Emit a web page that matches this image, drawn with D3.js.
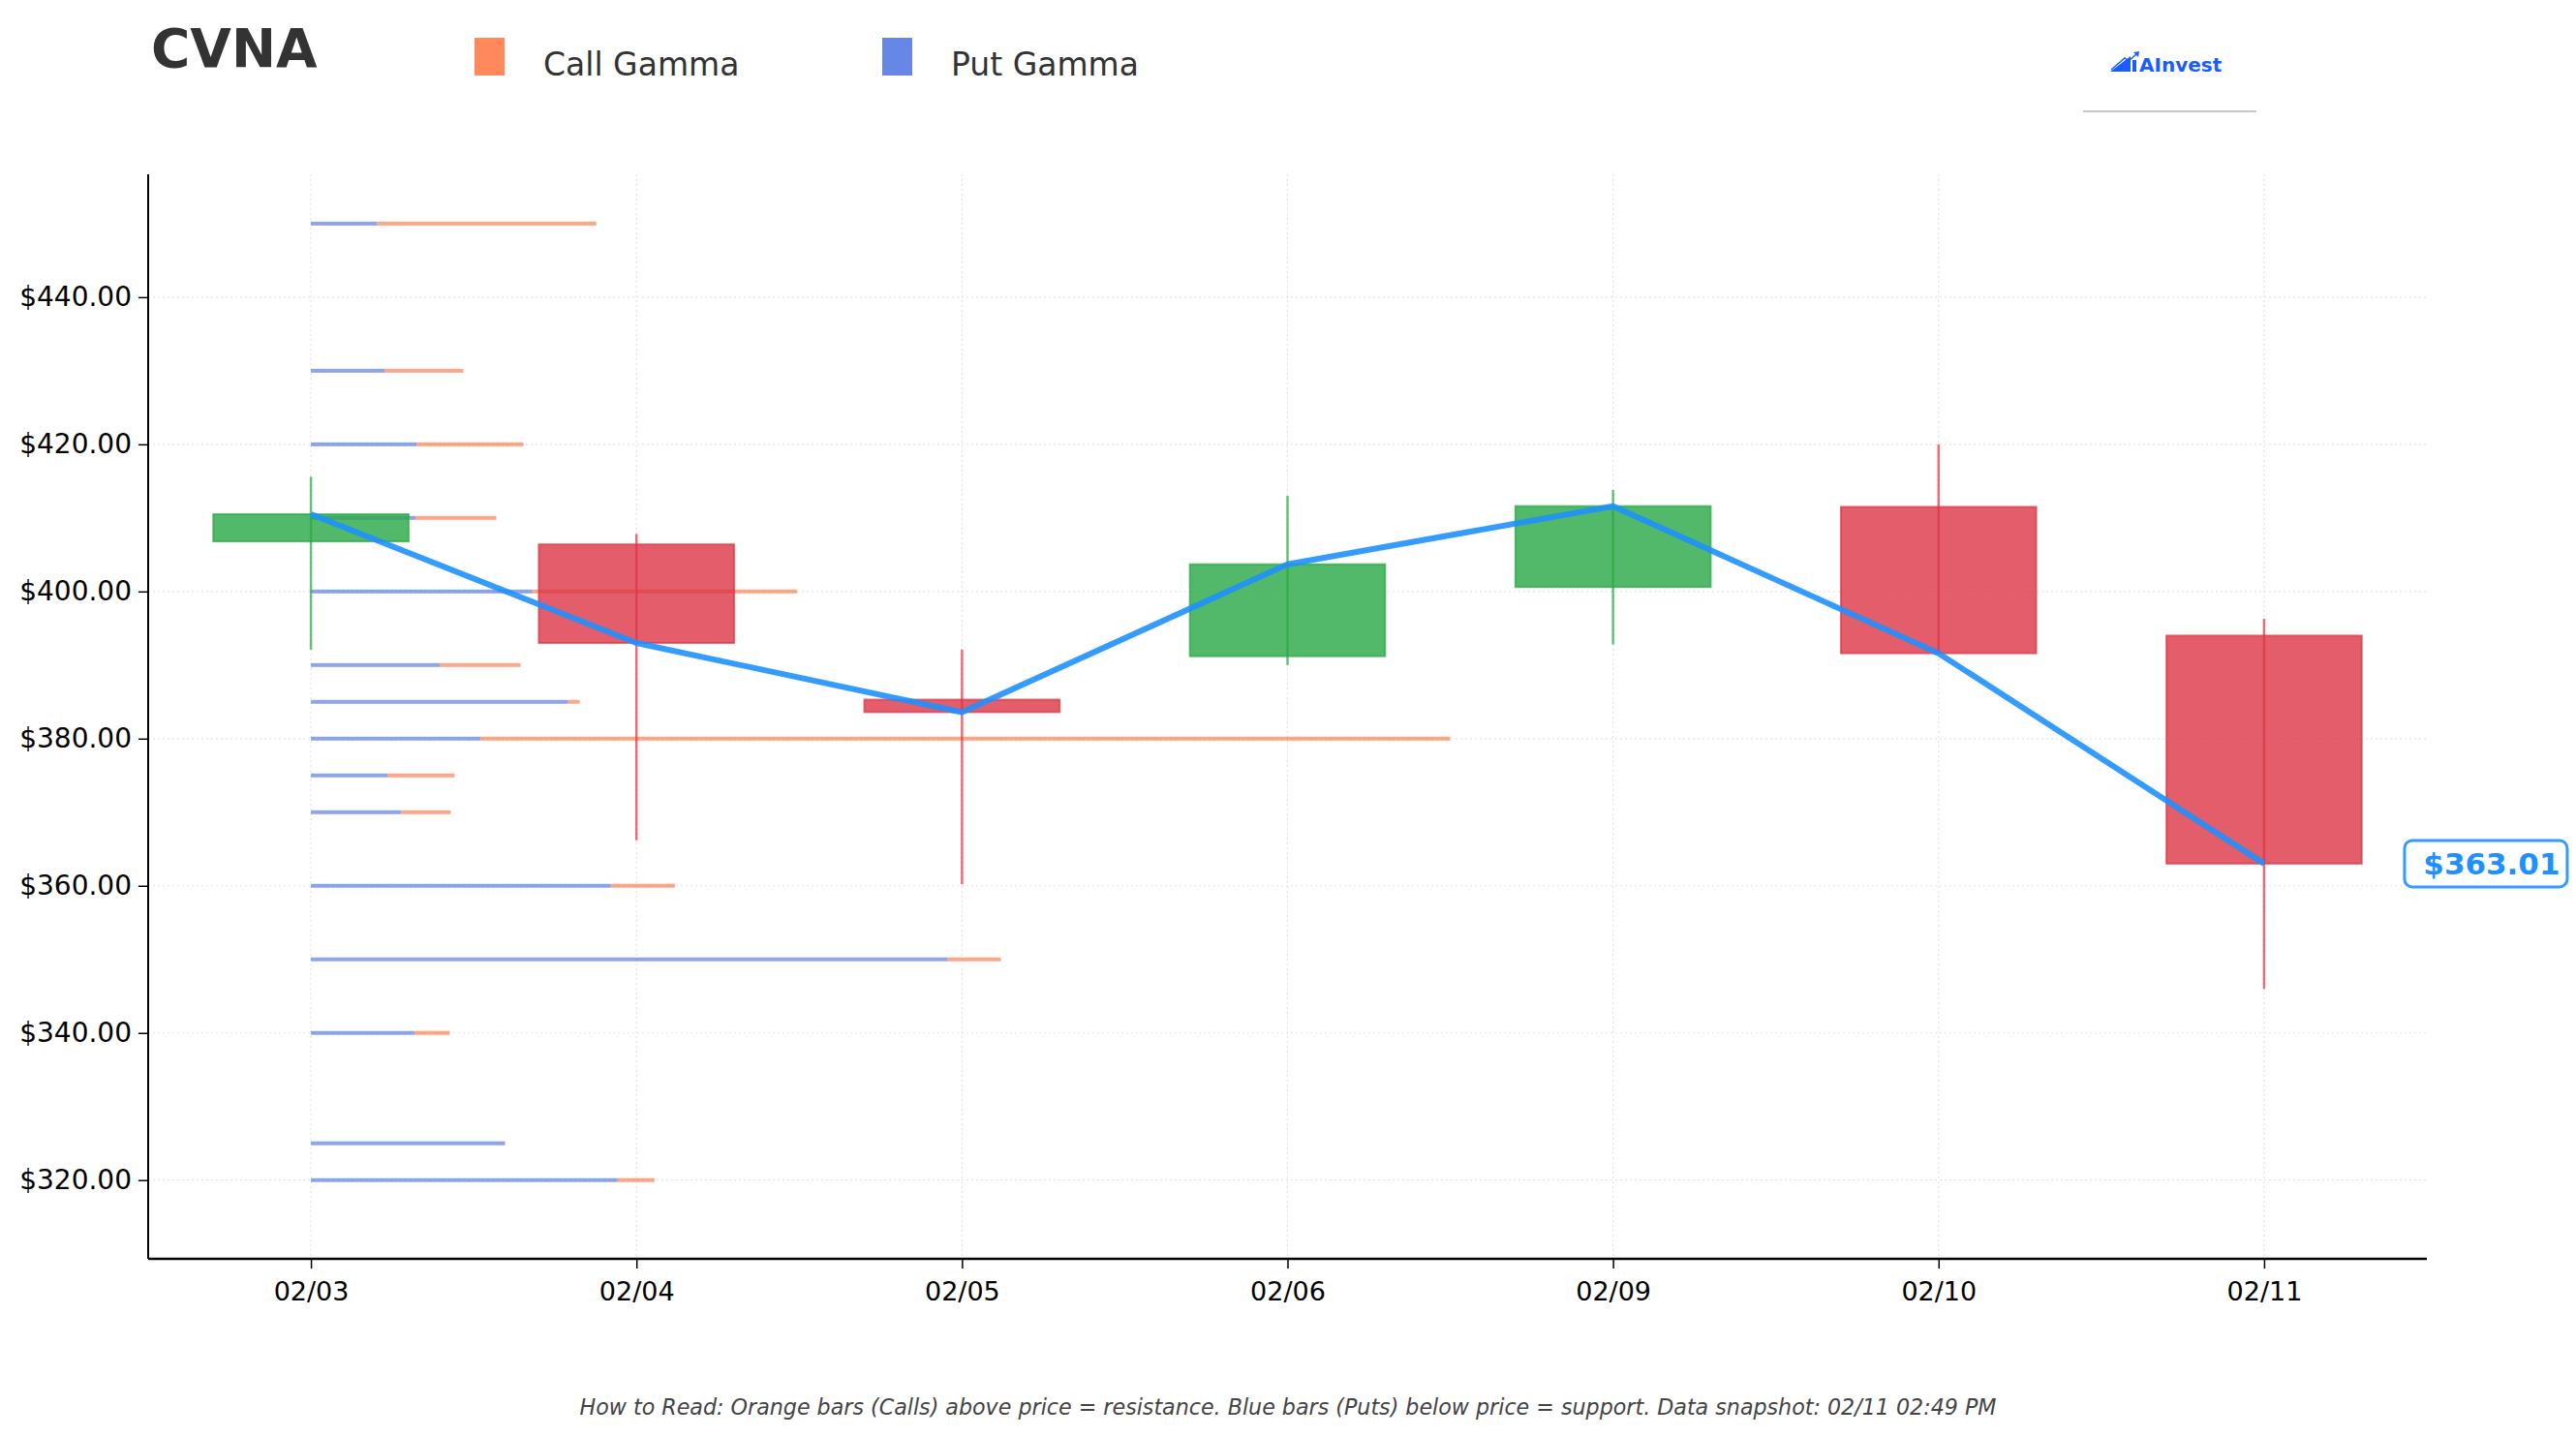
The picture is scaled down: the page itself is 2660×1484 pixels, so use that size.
<!DOCTYPE html>
<html>
<head>
<meta charset="utf-8">
<script src="https://cdn.jsdelivr.net/npm/d3@7"></script>
<style>
  html, body { margin: 0; padding: 0; background: #fff; }
  svg { display: block; font-family: "DejaVu Sans", sans-serif; }
</style>
</head>
<body>
<div id="chart"></div>
<script>
// ---- data ----
const ticker = "CVNA";
const dates = ["02/03", "02/04", "02/05", "02/06", "02/09", "02/10", "02/11"];
const opens = [406.8, 406.4, 385.3, 391.2, 400.6, 411.5, 394.0];
const highs = [415.6, 407.8, 392.1, 413.0, 413.8, 420.0, 396.3];
const lows = [392.1, 366.2, 360.2, 390.0, 392.8, 391.5, 346.0];
const closes = [410.5, 393.0, 383.6, 403.7, 411.6, 391.6, 363.01];

const strikes = [450, 430, 420, 410, 400, 390, 385, 380, 375, 370, 360, 350, 340, 325, 320];
const putGamma = [6.8, 7.6, 10.9, 10.8, 22.8, 13.3, 26.5, 17.5, 7.9, 9.3, 30.9, 65.6, 10.7, 20.0, 31.6];
const callGamma = [22.6, 8.1, 11.0, 8.3, 27.3, 8.3, 1.2, 99.9, 6.9, 5.1, 6.6, 5.5, 3.6, 0, 3.8];

const yTicks = [320, 340, 360, 380, 400, 420, 440];
const footnote = "How to Read: Orange bars (Calls) above price = resistance. Blue bars (Puts) below price = support. Data snapshot: 02/11 02:49 PM";

// ---- layout ----
const width = 2660, height = 1484;
const mLeft = 153, mRight = 2506, mTop = 180, mBottom = 1300;

const callColor = "#FF6B35";
const putColor = "#4169E1";
const upColor = "#28a745";
const downColor = "#dc3545";
const priceColor = "#1E90FF";

const svg = d3.select("#chart").append("svg")
  .attr("width", width)
  .attr("height", height);

svg.append("rect").attr("width", width).attr("height", height).attr("fill", "#fff");

// scales
const x = d3.scaleLinear().domain([-0.5, dates.length - 0.5]).range([mLeft, mRight]);
const y = d3.scaleLinear().domain([309.3, 456.7]).range([mBottom, mTop]);
const totals = strikes.map((s, i) => putGamma[i] + callGamma[i]);
const g = d3.scaleLinear().domain([0, d3.max(totals)]).range([0, x(3.5) - x(0)]);

// grid
const grid = svg.append("g").attr("stroke", "#e3e3e3").attr("stroke-width", 1.2).attr("stroke-dasharray", "2,3");
grid.selectAll("line.h").data(yTicks).enter().append("line")
  .attr("x1", mLeft).attr("x2", mRight)
  .attr("y1", d => y(d)).attr("y2", d => y(d));
grid.selectAll("line.v").data(dates).enter().append("line")
  .attr("x1", (d, i) => x(i)).attr("x2", (d, i) => x(i))
  .attr("y1", mTop).attr("y2", mBottom);

// gamma bars (put first, then call stacked after it)
const bars = svg.append("g");
bars.selectAll("rect.put").data(strikes).enter().append("rect")
  .attr("x", x(0))
  .attr("y", d => y(d) - 2)
  .attr("width", (d, i) => g(putGamma[i]))
  .attr("height", 4)
  .attr("fill", putColor).attr("fill-opacity", 0.6);
bars.selectAll("rect.call").data(strikes).enter().append("rect")
  .attr("x", (d, i) => x(0) + g(putGamma[i]))
  .attr("y", d => y(d) - 2)
  .attr("width", (d, i) => g(callGamma[i]))
  .attr("height", 4)
  .attr("fill", callColor).attr("fill-opacity", 0.6);

// candles
const bodyW = x(0.6) - x(0);
const candles = svg.append("g").selectAll("g").data(dates).enter().append("g");
candles.append("line")
  .attr("x1", (d, i) => x(i)).attr("x2", (d, i) => x(i))
  .attr("y1", (d, i) => y(highs[i])).attr("y2", (d, i) => y(lows[i]))
  .attr("stroke", (d, i) => closes[i] >= opens[i] ? upColor : downColor)
  .attr("stroke-opacity", 0.7)
  .attr("stroke-width", 2.5);
candles.append("rect")
  .attr("x", (d, i) => x(i) - bodyW / 2)
  .attr("y", (d, i) => y(Math.max(opens[i], closes[i])))
  .attr("width", bodyW)
  .attr("height", (d, i) => Math.abs(y(opens[i]) - y(closes[i])))
  .attr("fill", (d, i) => closes[i] >= opens[i] ? upColor : downColor)
  .attr("fill-opacity", 0.8)
  .attr("stroke", (d, i) => closes[i] >= opens[i] ? upColor : downColor)
  .attr("stroke-opacity", 0.7)
  .attr("stroke-width", 2);

// price line
const line = d3.line().x((d, i) => x(i)).y(d => y(d));
svg.append("path")
  .attr("d", line(closes))
  .attr("fill", "none")
  .attr("stroke", priceColor)
  .attr("stroke-opacity", 0.9)
  .attr("stroke-width", 6)
  .attr("stroke-linejoin", "round");

// axes
const yAxis = d3.axisLeft(y).tickValues(yTicks).tickSize(10).tickPadding(7)
  .tickFormat(d => "$" + d.toFixed(2));
const yg = svg.append("g").attr("transform", `translate(${mLeft},0)`).call(yAxis);
yg.select(".domain").remove();
yg.append("line").attr("x1", 0).attr("x2", 0).attr("y1", mTop).attr("y2", mBottom)
  .attr("stroke", "#000").attr("stroke-width", 2);

const xAxis = d3.axisBottom(x).tickValues(d3.range(dates.length)).tickSize(10).tickPadding(14)
  .tickFormat(i => dates[i]);
const xg = svg.append("g").attr("transform", `translate(0,${mBottom})`).call(xAxis);
xg.select(".domain").remove();
xg.append("line").attr("x1", mLeft).attr("x2", mRight).attr("y1", 0).attr("y2", 0)
  .attr("stroke", "#000").attr("stroke-width", 2.5);

svg.selectAll(".tick text").attr("font-size", 27).attr("fill", "#000")
  .attr("font-family", "DejaVu Sans");
yg.selectAll(".tick text").attr("font-size", 28);
svg.selectAll(".tick line").attr("stroke", "#000").attr("stroke-width", 1.5);

// last price label
const last = closes[closes.length - 1];
const lbl = svg.append("g").attr("transform", `translate(${x(6) + 145},${y(last)})`);
lbl.append("rect")
  .attr("x", 0).attr("y", -24).attr("width", 168).attr("height", 48)
  .attr("rx", 8)
  .attr("fill", "#fff").attr("stroke", priceColor).attr("stroke-opacity", 0.9).attr("stroke-width", 3);
lbl.append("text")
  .attr("x", 90).attr("y", 11)
  .attr("text-anchor", "middle")
  .attr("font-size", 31).attr("font-weight", "bold")
  .attr("fill", priceColor)
  .text("$" + last.toFixed(2));

// title
svg.append("text")
  .attr("x", 156).attr("y", 69)
  .attr("font-size", 55).attr("font-weight", "bold").attr("fill", "#333")
  .text(ticker);

// legend
const legend = [
  { name: "Call Gamma", color: callColor, x: 490 },
  { name: "Put Gamma", color: putColor, x: 911 }
];
const lg = svg.append("g").selectAll("g").data(legend).enter().append("g");
lg.append("rect")
  .attr("x", d => d.x).attr("y", 39).attr("width", 31).attr("height", 39)
  .attr("fill", d => d.color).attr("fill-opacity", 0.8);
lg.append("text")
  .attr("x", d => d.x + 71).attr("y", 78)
  .attr("font-size", 33).attr("fill", "#333")
  .text(d => d.name);

// logo
const logo = svg.append("g");
logo.append("path")
  .attr("d", "M2179,74 L2200,58 L2200,74 Z M2202,74 L2202,62 L2206,62 L2206,74 Z")
  .attr("fill", "#1A5CFF");
logo.append("path")
  .attr("d", "M2180,72 L2194,60 L2198,63 L2207,55")
  .attr("fill", "none").attr("stroke", "#1A5CFF").attr("stroke-width", 1.5);
logo.append("path")
  .attr("d", "M2203,54 L2209,53 L2208,59 Z").attr("fill", "#1A5CFF");
logo.append("text")
  .attr("x", 2209).attr("y", 74)
  .attr("font-size", 20).attr("font-weight", "bold").attr("fill", "#1A5CFF")
  .text("AInvest");
logo.append("line")
  .attr("x1", 2151).attr("x2", 2330).attr("y1", 115).attr("y2", 115)
  .attr("stroke", "#c8c8c8").attr("stroke-width", 2);

// footnote
svg.append("text")
  .attr("x", 1330).attr("y", 1461)
  .attr("text-anchor", "middle")
  .attr("font-size", 22.2).attr("font-style", "italic").attr("fill", "#444")
  .text(footnote);
</script>
</body>
</html>
